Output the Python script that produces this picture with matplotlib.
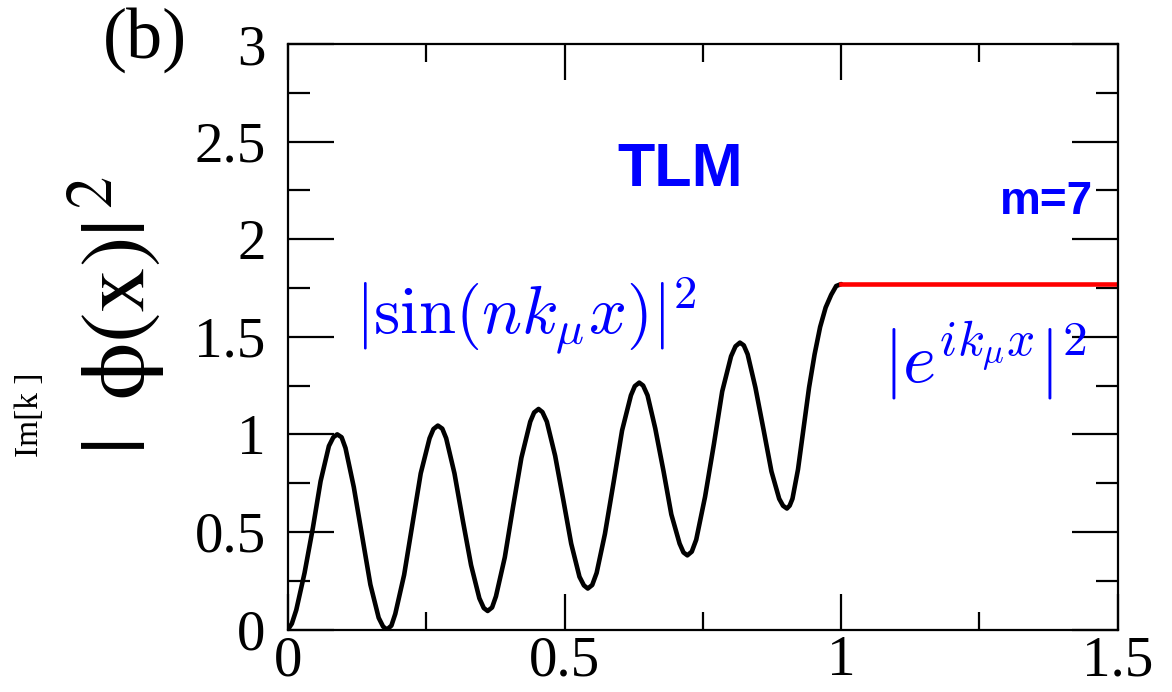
import numpy as np
import matplotlib
matplotlib.use("Agg")
import matplotlib.pyplot as plt
from matplotlib.ticker import MultipleLocator

# |phi(x)|^2 inside the region (0..1)
x_in = [0.000, 0.007, 0.015, 0.030, 0.045, 0.059, 0.074, 0.082, 0.089,
        0.097, 0.104, 0.119, 0.134, 0.149, 0.164, 0.172, 0.179,
        0.187, 0.194, 0.210, 0.225, 0.240, 0.256, 0.263, 0.271,
        0.279, 0.286, 0.301, 0.316, 0.331, 0.346, 0.354, 0.361,
        0.369, 0.376, 0.392, 0.407, 0.422, 0.438, 0.445, 0.453,
        0.460, 0.468, 0.483, 0.498, 0.512, 0.527, 0.535, 0.542,
        0.550, 0.558, 0.573, 0.589, 0.604, 0.620, 0.627, 0.635,
        0.642, 0.650, 0.664, 0.679, 0.693, 0.708, 0.715, 0.722,
        0.730, 0.738, 0.754, 0.770, 0.785, 0.801, 0.809, 0.817,
        0.824, 0.831, 0.845, 0.860, 0.874, 0.888, 0.895, 0.902,
        0.907, 0.912, 0.922, 0.932, 0.942, 0.952, 0.962, 0.972, 0.982, 0.991, 1.000]
y_in = [0.00, 0.03, 0.10, 0.29, 0.52, 0.76, 0.94, 0.985, 1.00,
        0.985, 0.93, 0.73, 0.48, 0.23, 0.06, 0.015, 0.00,
        0.02, 0.08, 0.28, 0.54, 0.80, 0.98, 1.027, 1.045,
        1.029, 0.98, 0.80, 0.56, 0.33, 0.16, 0.11, 0.095,
        0.113, 0.17, 0.37, 0.63, 0.88, 1.065, 1.112, 1.13,
        1.114, 1.065, 0.89, 0.66, 0.44, 0.27, 0.226, 0.21,
        0.228, 0.29, 0.49, 0.76, 1.02, 1.20, 1.247, 1.265,
        1.25, 1.20, 1.03, 0.81, 0.59, 0.44, 0.395, 0.38,
        0.399, 0.46, 0.68, 0.95, 1.22, 1.40, 1.451, 1.47,
        1.456, 1.41, 1.24, 1.02, 0.81, 0.67, 0.634, 0.62,
        0.635, 0.67, 0.82, 1.03, 1.24, 1.41, 1.55, 1.65, 1.715, 1.76, 1.77]

# plane wave outside (x > 1)
x_out = [1.0, 1.5]
y_out = [1.77, 1.77]

blue = "#0000ff"
serif = "Liberation Serif"

fig = plt.figure(figsize=(11.72, 6.92), dpi=100)
ax = fig.add_axes([0.2457, 0.0903, 0.708, 0.8461])

ax.plot(x_in, y_in, color="black", lw=3.3, solid_joinstyle="round", solid_capstyle="round")
ax.plot(x_out, y_out, color="#ff0000", lw=3.3)

ax.set_xlim(0, 1.5)
ax.set_ylim(0, 3)
ax.xaxis.set_minor_locator(MultipleLocator(0.25))
ax.yaxis.set_minor_locator(MultipleLocator(0.25))
ax.set_xticks([0, 0.5, 1, 1.5], ["0", "0.5", "1", "1.5"])
ax.set_yticks([0, 0.5, 1, 1.5, 2, 2.5, 3], ["0", "0.5", "1", "1.5", "2", "2.5", "3"])

ax.tick_params(which="both", direction="in", top=True, right=True, width=1.6, color="black")
ax.tick_params(axis="x", which="major", length=26, pad=4)
ax.tick_params(axis="x", which="minor", length=13)
ax.tick_params(axis="y", which="major", length=33, pad=16)
ax.tick_params(axis="y", which="minor", length=16)
for lab in ax.get_xticklabels() + ax.get_yticklabels():
    lab.set_fontfamily(serif)
    lab.set_fontsize(41)
for s in ax.spines.values():
    s.set_linewidth(1.6)

plt.rcParams["mathtext.fontset"] = "stix"
fig.text(117 / 1172, 1 - 316 / 692, r"$|\;\;\mathrm{\phi}(\mathrm{x})|^{\,2}$", rotation=90,
         ha="center", va="center", fontsize=66)
fig.text(145 / 1172, 1 - 40 / 692, "(b)", family=serif, fontsize=52,
         ha="center", va="center")
fig.text(30 / 1172, 1 - 415 / 692, "Im[k ]", family=serif, fontsize=24,
         rotation=90, ha="center", va="center")

fig.text(680 / 1172, 1 - 171 / 692, "TLM", family="Liberation Sans", weight="bold",
         fontsize=44, color=blue, ha="center", va="center")
fig.text(1093 / 1172, 1 - 214 / 692, "m=7", family="Liberation Sans", weight="bold",
         fontsize=33, color=blue, ha="right", va="baseline")

plt.rcParams["mathtext.fontset"] = "cm"
fig.text(355 / 1172, 1 - 334 / 692, r"$|\sin(nk_\mu x)|^2$", fontsize=48,
         color=blue, ha="left", va="baseline")
fig.text(883 / 1172, 1 - 382 / 692, r"$|e^{ik_\mu x}|^2$", fontsize=51,
         color=blue, ha="left", va="baseline")

fig.savefig("out.png", dpi=100)
